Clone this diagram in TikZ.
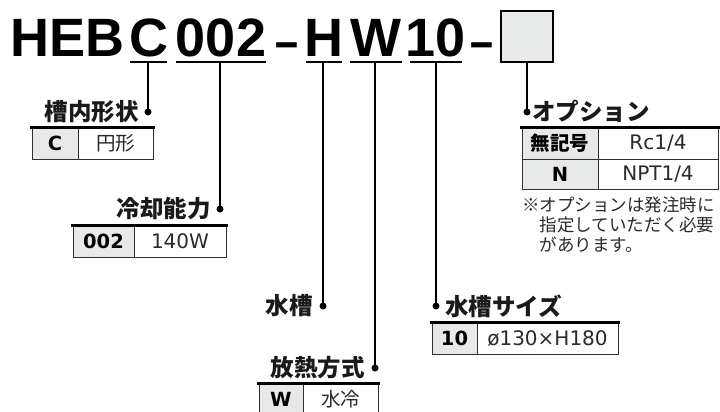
\documentclass[tikz,border=0pt]{standalone}
\usepackage{fontspec}
\setmainfont{Liberation Sans}
\newfontfamily\jp{Noto Sans CJK JP}
\newfontfamily\dvs{DejaVu Sans}
\definecolor{cellgray}{HTML}{E7E8E8}
\definecolor{boxgray}{HTML}{E8E9E9}
\definecolor{linegray}{HTML}{303030}
\definecolor{txtgray}{HTML}{2A2A2A}
\definecolor{labblack}{HTML}{1A1A1A}
\begin{document}
\begin{tikzpicture}[x=1pt,y=-1pt,
  title/.style={font=\fontsize{54}{54}\selectfont\bfseries, inner sep=0, anchor=base},
  uline/.style={line width=1.6pt},
  conn/.style={line width=1.8pt},
  dotm/.style={circle, fill=black, inner sep=0, minimum size=7pt},
  lab/.style={font=\jp\bfseries\fontsize{23.5}{23.5}\selectfont, text=labblack, inner sep=0},
  keycell/.style={draw=linegray, line width=0.9pt, fill=cellgray, inner sep=0, minimum height=31pt, font=\dvs\bfseries\fontsize{19.5}{19.5}\selectfont},
  keyjp/.style={keycell, font=\jp\bfseries\fontsize{19.5}{19.5}\selectfont},
  valcell/.style={draw=linegray, line width=0.9pt, fill=white, inner sep=0, minimum height=31pt, text=txtgray, font=\dvs\fontsize{20}{20}\selectfont},
  valjp/.style={valcell, font=\jp\fontsize{19.5}{19.5}\selectfont},
  topline/.style={line width=2.4pt, line cap=rect},
  notet/.style={inner sep=0, anchor=west, text=txtgray, font=\jp\fontsize{17.5}{17.5}\selectfont}
]
\useasboundingbox (0,0) rectangle (720,412);

% title
\node[title] (heb) at (67.5,57) {HEB};
\node[title] (c) at (148.5,57) {C};
\node[title] (n002) at (221,57) {002};
\node[title] (d1) at (287,57) {\scalebox{1.5}[0.8]{-}};
\node[title] (h) at (324,57) {H};
\node[title] (w) at (376,57) {W};
\node[title] (n10) at (436,57) {10};
\node[title] (d2) at (481.5,57) {\scalebox{1.5}[0.8]{-}};
\node[draw, line width=2pt, fill=boxgray, minimum width=52pt, minimum height=51pt, inner sep=0] (opt) at (527,36.5) {};

% underlines
\draw[uline] (130,62) -- (167,62);
\draw[uline] (176,62) -- (266,62);
\draw[uline] (306,62) -- (342,62);
\draw[uline] (350,62) -- (402,62);
\draw[uline] (410,62) -- (462,62);
\coordinate (uc) at (148,62);
\coordinate (u002) at (220,62);
\coordinate (uh) at (323,62);
\coordinate (uw) at (375,62);
\coordinate (u10) at (436,62);

% dots
\node[dotm] (dc) at (148,112) {};
\node[dotm] (d002) at (220,209) {};
\node[dotm] (dh) at (323,306) {};
\node[dotm] (dw) at (375,368) {};
\node[dotm] (d10) at (436,306) {};
\node[dotm] (dopt) at (527,112) {};

% connectors
\draw[conn] (uc) -- (dc.center);
\draw[conn] (u002) -- (d002.center);
\draw[conn] (uh) -- (dh.center);
\draw[conn] (uw) -- (dw.center);
\draw[conn] (u10) -- (d10.center);
\draw[conn] (opt.south) -- (dopt.center);

% labels
\node[lab, anchor=east] (lc) at (139,112) {槽内形状};
\node[lab, anchor=east] (l002) at (211,209) {冷却能力};
\node[lab, anchor=east] (lh) at (313,306) {水槽};
\node[lab, anchor=east] (lw) at (365,368) {放熱方式};
\node[lab, anchor=west] (l10) at (445,306) {水槽サイズ};
\node[lab, anchor=west] (lopt) at (532,111) {オプション};

% table C
\node[keycell, minimum width=46pt] (t1k) at (55,143.5) {C};
\node[valjp, minimum width=75pt] (t1v) at (115.5,143.5) {円形};
\draw[topline] (t1k.north west) -- (t1v.north east);

% table 002
\node[keycell, minimum width=61pt] (t2k) at (103.5,241.5) {002};
\node[valcell, minimum width=92pt] (t2v) at (180,241.5) {140W};
\draw[topline] (t2k.north west) -- (t2v.north east);

% table W
\node[keycell, minimum width=44pt] (t3k) at (281,399.5) {W};
\node[valjp, minimum width=75pt] (t3v) at (340.5,399.5) {水冷};
\draw[topline] (t3k.north west) -- (t3v.north east);

% table 10
\node[keycell, minimum width=45pt] (t4k) at (454.5,338.5) {10};
\node[valcell, minimum width=141pt] (t4v) at (547.5,338.5) {ø130×H180};
\draw[topline] (t4k.north west) -- (t4v.north east);

% option table
\node[keyjp, minimum width=76pt] (t5k) at (560,143.5) {無記号};
\node[valcell, minimum width=120pt] (t5v) at (658,143.5) {Rc1/4};
\node[keycell, minimum width=76pt, minimum height=30pt] (t6k) at (560,174) {N};
\node[valcell, minimum width=120pt, minimum height=30pt] (t6v) at (658,174) {NPT1/4};
\draw[topline] (t5k.north west) -- (t5v.north east);

% note
\node[notet] (nt1) at (522,205) {※オプションは発注時に};
\node[notet] (nt2) at (539.5,225) {指定していただく必要};
\node[notet] (nt3) at (539.5,245) {があります。};
\end{tikzpicture}
\end{document}
